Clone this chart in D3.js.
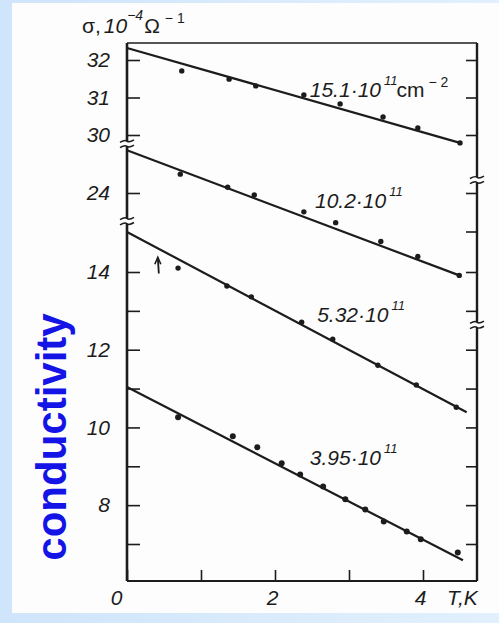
<!DOCTYPE html>
<html>
<head>
<meta charset="utf-8">
<script src="https://cdn.jsdelivr.net/npm/d3@7"></script>
<style>
  html, body { margin: 0; padding: 0; background: #dcecfb; }
  svg { display: block; }
  text { fill: #1c1c1c; }
</style>
</head>
<body>
<svg id="chart" width="499" height="623"></svg>
<script>
// Conductivity σ (10^-4 Ω^-1) versus temperature T (K) for four carrier densities.
// Each density is drawn on its own piece of a broken σ axis.

const densityLabels = ["15.1·10", "10.2·10", "5.32·10", "3.95·10"];

const temps151  = [0.74, 1.38, 1.74, 2.39, 2.88, 3.46, 3.93, 4.50];
const sigma151  = [31.71, 31.49, 31.31, 31.07, 30.83, 30.48, 30.19, 29.79];
const fit151    = [[0, 32.32], [4.50, 29.79]];

const temps102  = [0.72, 1.36, 1.72, 2.39, 2.82, 3.43, 3.93, 4.49];
const sigma102  = [24.49, 24.15, 23.95, 23.51, 23.23, 22.74, 22.35, 21.86];
const fit102    = [[0, 25.11], [4.49, 21.86]];

const temps532  = [0.69, 1.35, 1.68, 2.36, 2.78, 3.39, 3.91, 4.45];
const sigma532  = [14.10, 13.64, 13.36, 12.71, 12.27, 11.60, 11.09, 10.52];
const fit532    = [[0, 15.03], [4.59, 10.39]];

const temps395  = [0.69, 1.43, 1.76, 2.09, 2.34, 2.65, 2.95, 3.22, 3.47, 3.78, 3.97, 4.47];
const sigma395  = [10.26, 9.77, 9.49, 9.08, 8.79, 8.48, 8.15, 7.89, 7.58, 7.32, 7.12, 6.78];
const fit395    = [[0, 11.04], [4.54, 6.58]];

// where each density label sits, in (T, σ) of its own axis piece
const labelAnchors = [[2.47, 31.01], [2.54, 23.61], [2.57, 12.71], [2.47, 9.03]];

// tick values and labels
const xTicks       = [0, 1, 2, 3, 4];
const xTickLabels  = ["0", "", "2", "", "4"];
const yTicksTop    = [32, 31, 30];
const yLabelsTop   = ["32", "31", "30"];
const yTicksMid    = [24];
const yLabelsMid   = ["24"];
const yTicksRightMid = [24, 23];
const yTicksLow    = [14, 13, 12, 11, 10, 9, 8, 7];
const yLabelsLow   = ["14", "", "12", "", "10", "", "8", ""];

// ---------------------------------------------------------------
const svg = d3.select("#chart");
const W = 499, H = 623;

// page backdrop
const defs = svg.append("defs");
const grad = defs.append("linearGradient").attr("id", "side").attr("x1", 0).attr("x2", 1);
grad.append("stop").attr("offset", 0).attr("stop-color", "#cfe5fb");
grad.append("stop").attr("offset", 1).attr("stop-color", "#e2f0fd");
svg.append("rect").attr("width", W).attr("height", H).attr("fill", "url(#side)");
svg.append("rect").attr("x", 12).attr("y", 3).attr("width", W - 12).attr("height", 610).attr("fill", "#fdfdfd");

// frame geometry
const frameL = 127, frameR = 477, frameT = 43, frameB = 581;

const x = d3.scaleLinear().domain([0, 4]).range([frameL, 423]);

// three pieces of the broken σ axis
const ySeg = [
  d3.scaleLinear().domain([30, 32]).range([135, 60]),
  d3.scaleLinear().domain([24, 25]).range([193, 154.5]),
  d3.scaleLinear().domain([7, 14]).range([544, 272])
];

const series = [
  { t: temps151, s: sigma151, fit: fit151, seg: 0, r: 2.7 },
  { t: temps102, s: sigma102, fit: fit102, seg: 1, r: 2.7 },
  { t: temps532, s: sigma532, fit: fit532, seg: 2, r: 2.7 },
  { t: temps395, s: sigma395, fit: fit395, seg: 2, r: 3.0 }
];

const ink = "#1c1c1c";
const g = svg.append("g");

// top edge of the frame
g.append("line").attr("x1", frameL).attr("x2", frameR).attr("y1", frameT).attr("y2", frameT)
  .attr("stroke", ink).attr("stroke-width", 1.6);

// left axis ticks and labels, one piece at a time
function leftAxis(scale, ticks, labels) {
  const ax = d3.axisLeft(scale).tickValues(ticks)
    .tickSizeInner(-13).tickSizeOuter(0).tickPadding(17)
    .tickFormat((d, i) => labels[i]);
  const a = g.append("g").attr("transform", `translate(${frameL},0)`).call(ax);
  a.select(".domain").remove();
  a.selectAll("line").attr("stroke", ink).attr("stroke-width", 1.6);
  a.selectAll("text").attr("font-family", "Liberation Sans, Arial, sans-serif")
    .attr("font-style", "italic").attr("font-size", 21).attr("fill", ink);
}
leftAxis(ySeg[0], yTicksTop, yLabelsTop);
leftAxis(ySeg[1], yTicksMid, yLabelsMid);
leftAxis(ySeg[2], yTicksLow, yLabelsLow);

// right axis ticks (unlabelled)
function rightAxis(scale, ticks) {
  const ax = d3.axisRight(scale).tickValues(ticks)
    .tickSizeInner(-11).tickSizeOuter(0).tickFormat("");
  const a = g.append("g").attr("transform", `translate(${frameR},0)`).call(ax);
  a.select(".domain").remove();
  a.selectAll("line").attr("stroke", ink).attr("stroke-width", 1.6);
}
rightAxis(ySeg[0], yTicksTop);
rightAxis(ySeg[1], yTicksRightMid);
rightAxis(ySeg[2], yTicksLow);

// bottom axis
const bx = d3.axisBottom(x).tickValues(xTicks)
  .tickSizeInner(-11).tickSizeOuter(0).tickPadding(9)
  .tickFormat((d, i) => xTickLabels[i]);
const ba = g.append("g").attr("transform", `translate(0,${frameB})`).call(bx);
ba.select(".domain").remove();
ba.selectAll("line").attr("stroke", ink).attr("stroke-width", 1.6);
ba.selectAll("text").attr("font-family", "Liberation Sans, Arial, sans-serif")
  .attr("font-style", "italic").attr("font-size", 21).attr("fill", ink)
  .attr("dx", d => d === 0 ? -11 : -3);

g.append("line").attr("x1", frameL).attr("x2", frameR).attr("y1", frameB).attr("y2", frameB)
  .attr("stroke", ink).attr("stroke-width", 2.2);

// vertical axis lines
g.append("line").attr("x1", frameL).attr("x2", frameL).attr("y1", frameT).attr("y2", frameB)
  .attr("stroke", ink).attr("stroke-width", 2.6);
g.append("line").attr("x1", frameR).attr("x2", frameR).attr("y1", frameT).attr("y2", frameB)
  .attr("stroke", ink).attr("stroke-width", 2.4);

// break marks on both axes
function breakMark(xc, yc) {
  const b = g.append("g");
  b.append("rect").attr("x", xc - 3).attr("y", yc - 2.5).attr("width", 6).attr("height", 5).attr("fill", "#fdfdfd");
  [-2.6, 2.6].forEach(o => {
    b.append("path")
      .attr("d", `M${xc - 7},${yc + o + 1.2} Q${xc - 2},${yc + o - 1.8} ${xc},${yc + o} T${xc + 7},${yc + o - 1.2}`)
      .attr("fill", "none").attr("stroke", ink).attr("stroke-width", 1.5);
  });
}
breakMark(frameL, ySeg[1](25.28));
breakMark(frameL, ySeg[1](23.27));
breakMark(frameR, ySeg[1](24.34));
breakMark(frameR, ySeg[2](12.64));

// fitted lines and measured points
series.forEach(sr => {
  const y = ySeg[sr.seg];
  g.append("path")
    .attr("d", d3.line().x(d => x(d[0])).y(d => y(d[1]))(sr.fit))
    .attr("fill", "none").attr("stroke", ink).attr("stroke-width", 2.2);
  g.append("g").selectAll("circle")
    .data(sr.t.map((t, i) => [t, sr.s[i]]))
    .join("circle")
    .attr("cx", d => x(d[0])).attr("cy", d => y(d[1]))
    .attr("r", sr.r).attr("fill", ink);
});

// small upward arrow near the first 5.32 point
{
  const y = ySeg[2];
  const ax0 = x(0.43);
  g.append("line").attr("x1", ax0).attr("x2", ax0 - 1).attr("y1", y(13.96)).attr("y2", y(14.36))
    .attr("stroke", ink).attr("stroke-width", 1.8);
  g.append("path")
    .attr("d", `M${ax0 - 4},${y(14.2)} L${ax0 - 1},${y(14.38)} L${ax0 + 2},${y(14.2)}`)
    .attr("fill", "none").attr("stroke", ink).attr("stroke-width", 1.6);
}

// density labels
const labelFont = "Liberation Sans, Arial, sans-serif";
densityLabels.forEach((lab, i) => {
  const y = ySeg[series[i].seg];
  const [lt, lv] = labelAnchors[i];
  const t = g.append("text")
    .attr("x", x(lt)).attr("y", y(lv))
    .attr("font-family", labelFont).attr("font-size", 21).attr("font-style", "italic");
  t.append("tspan").text(lab);
  t.append("tspan").attr("font-size", 13).attr("dy", -12).attr("dx", 3).text("11");
  if (i === 0) {
    t.append("tspan").attr("font-style", "normal").attr("font-size", 21).attr("dy", 12).attr("dx", -1).text("cm");
    t.append("tspan").attr("font-style", "normal").attr("font-size", 14).attr("dy", -10).attr("dx", 4).text("− 2");
  }
});

// σ axis title
{
  const t = g.append("text").attr("x", 82).attr("y", 33)
    .attr("font-family", labelFont).attr("font-size", 21);
  t.append("tspan").text("σ,");
  t.append("tspan").attr("font-style", "italic").attr("dx", 3).text("10");
  t.append("tspan").attr("font-style", "italic").attr("font-size", 14).attr("dy", -13).text("−4");
  t.append("tspan").attr("dy", 13).attr("dx", 1).text("Ω");
  t.append("tspan").attr("font-size", 14).attr("dy", -10).attr("dx", 5).text("− 1");
}

// temperature axis title
g.append("text").attr("x", 447).attr("y", 605)
  .attr("font-family", labelFont).attr("font-size", 21).attr("font-style", "italic")
  .text("T,K");

// quantity name along the left side
svg.append("text")
  .attr("transform", "translate(66,437) rotate(-90)")
  .attr("text-anchor", "middle")
  .attr("font-family", "Liberation Sans, Arial, sans-serif")
  .attr("font-weight", "bold").attr("font-size", 42)
  .style("fill", "#1414e6")
  .text("conductivity");
</script>
</body>
</html>
